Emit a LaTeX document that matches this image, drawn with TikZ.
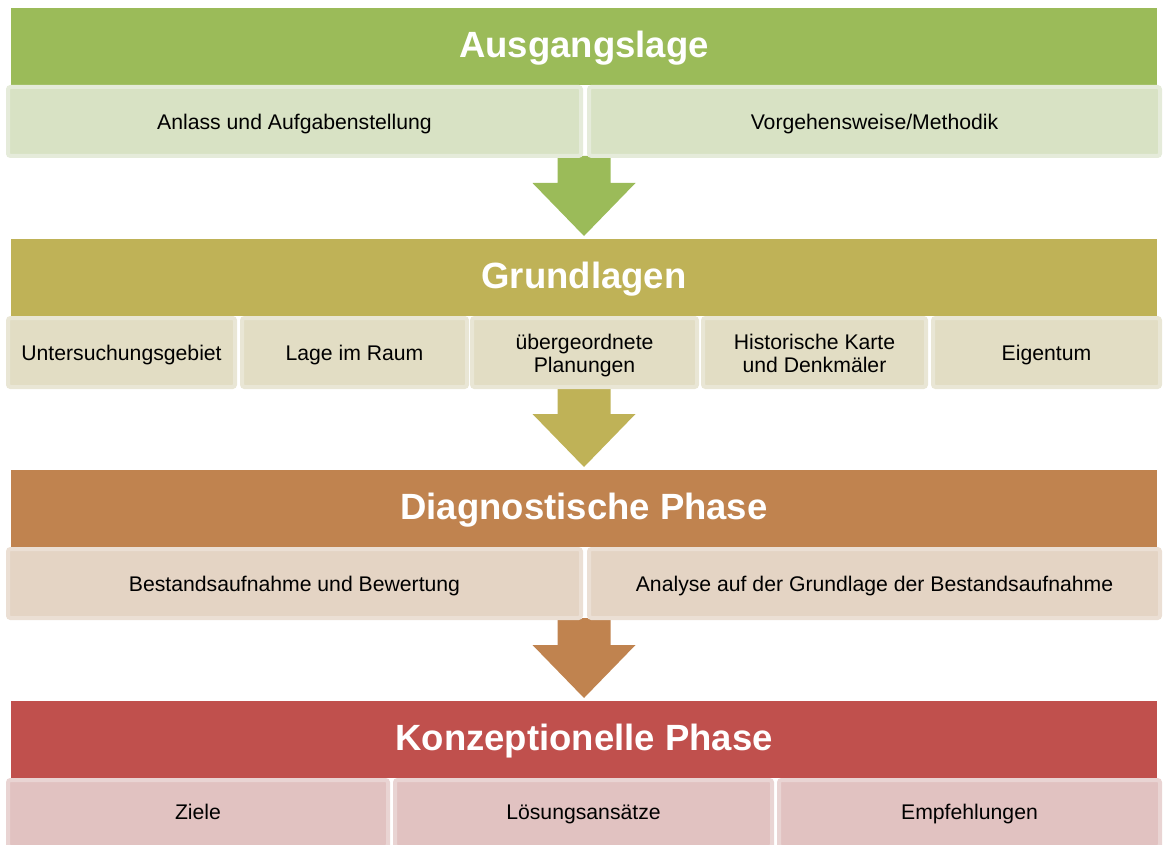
\documentclass[tikz,border=0pt]{standalone}
\usepackage{fontspec}
\setmainfont{Liberation Sans}
\usetikzlibrary{calc}
\pgfdeclarelayer{arrowlayer}
\pgfsetlayers{arrowlayer,main}
\definecolor{hA}{HTML}{9BBB59}
\definecolor{sA}{HTML}{D8E2C4}
\definecolor{bA}{HTML}{E5EBDA}
\definecolor{hB}{HTML}{BFB257}
\definecolor{sB}{HTML}{E2DDC4}
\definecolor{bB}{HTML}{E9E6D5}
\definecolor{hC}{HTML}{C0834F}
\definecolor{sC}{HTML}{E4D4C4}
\definecolor{bC}{HTML}{EBDFD4}
\definecolor{hD}{HTML}{C0504D}
\definecolor{sD}{HTML}{E1C2C1}
\definecolor{bD}{HTML}{E9D4D3}
\newcommand\phasearrow[3]{%
  \begin{pgfonlayer}{arrowlayer}
  \fill[#1] let \p1=(#2.south), \p2=(#3.north) in
  (\x2-26.5pt,\y1) -- (\x2+26.5pt,\y1) -- (\x2+26.5pt,\y1-27pt) -- (\x2+51.5pt,\y1-27pt)
  -- (\x2,\y1-80pt) -- (\x2-51.5pt,\y1-27pt) -- (\x2-26.5pt,\y1-27pt) -- cycle;
  \end{pgfonlayer}}
\begin{document}
\begin{tikzpicture}[x=1pt,y=-1pt,
  header/.style={fill=#1, text=white, font=\fontsize{36.5}{40}\selectfont\bfseries,
    text height=27.6pt, text depth=6pt,
    minimum width=1146pt, minimum height=77pt, inner sep=0pt, outer sep=0pt, anchor=north west},
  subbase/.style n args={2}{fill=#1, draw=#2, line width=4pt, rounded corners=2.5pt,
    font=\fontsize{21.2}{23.5}\selectfont, align=center, text=black,
    inner sep=0pt, outer sep=0pt, anchor=north west},
  sub/.style n args={2}{subbase={#1}{#2}, text height=18pt, text depth=1.6pt},
  sublast/.style n args={2}{subbase={#1}{#2}, text height=16pt, text depth=3.6pt},
  subtwo/.style n args={2}{subbase={#1}{#2}}]
\useasboundingbox (0,0) rectangle (1164,845);
\clip (0,0) rectangle (1164,845);
% headers
\node[header=hA] (h1) at (11,8) {Ausgangslage};
\node[header=hB] (h2) at (11,239) {Grundlagen};
\node[header=hC] (h3) at (11,470) {Diagnostische Phase};
\node[header=hD] (h4) at (11,701) {Konzeptionelle Phase};
% row 1
\node[sub={sA}{bA}, minimum width=573pt, minimum height=69pt] (s1a) at (8,87) {Anlass und Aufgabenstellung};
\node[sub={sA}{bA}, minimum width=571pt, minimum height=69pt] (s1b) at (589,87) {Vorgehensweise/Methodik};
% row 2
\node[sub={sB}{bB}, minimum width=227pt, minimum height=69pt] (s2a) at (8,318) {Untersuchungsgebiet};
\node[sub={sB}{bB}, minimum width=225pt, minimum height=69pt] (s2b) at (242,318) {Lage im Raum};
\node[subtwo={sB}{bB}, minimum width=225pt, minimum height=69pt] (s2c) at (472,318) {\rule{0pt}{24pt}übergeordnete\\Planungen\strut};
\node[subtwo={sB}{bB}, minimum width=223pt, minimum height=69pt] (s2d) at (703,318) {\rule{0pt}{24pt}Historische Karte\\und Denkmäler\strut};
\node[sub={sB}{bB}, minimum width=227pt, minimum height=69pt] (s2e) at (933,318) {Eigentum};
% row 3
\node[sub={sC}{bC}, minimum width=573pt, minimum height=69pt] (s3a) at (8,549) {Bestandsaufnahme und Bewertung};
\node[sub={sC}{bC}, minimum width=571pt, minimum height=69pt] (s3b) at (589,549) {Analyse auf der Grundlage der Bestandsaufnahme};
% row 4
\node[sublast={sD}{bD}, minimum width=380pt, minimum height=67pt] (s4a) at (8,780) {Ziele};
\node[sublast={sD}{bD}, minimum width=377pt, minimum height=67pt] (s4b) at (395,780) {Lösungsansätze};
\node[sublast={sD}{bD}, minimum width=381pt, minimum height=67pt] (s4c) at (779,780) {Empfehlungen};
% arrows (on a layer beneath the boxes)
\phasearrow{hA}{s1a}{h2}
\phasearrow{hB}{s2c}{h3}
\phasearrow{hC}{s3a}{h4}
\end{tikzpicture}
\end{document}
